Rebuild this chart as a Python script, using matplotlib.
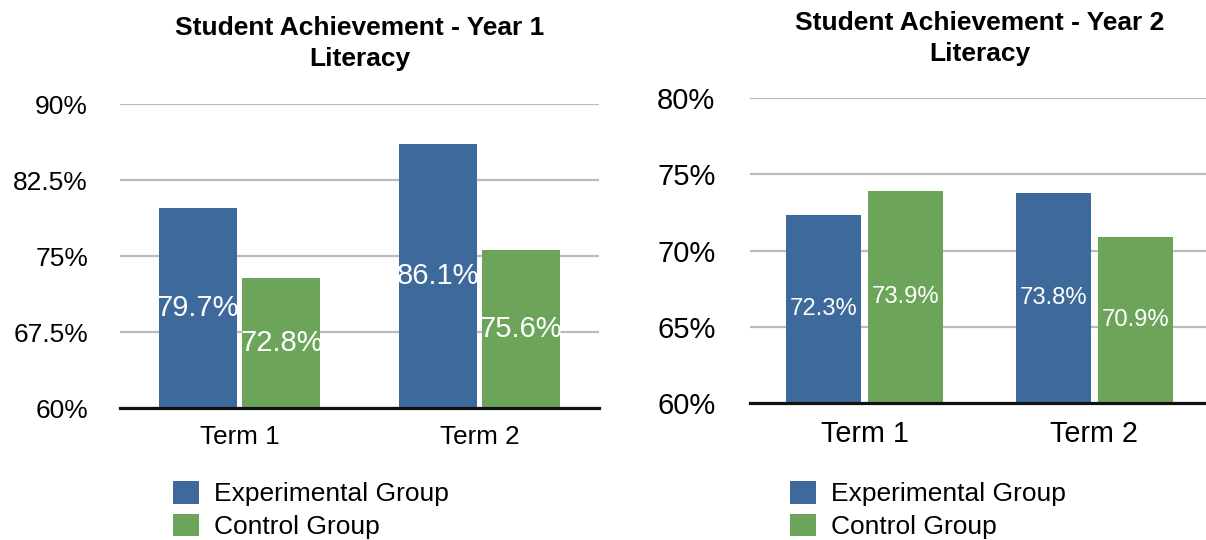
import matplotlib
matplotlib.use("Agg")
import matplotlib.pyplot as plt
import numpy as np

plt.rcParams['font.family'] = ['Liberation Sans', 'DejaVu Sans']

categories = ['Term 1', 'Term 2']
series_names = ['Experimental Group', 'Control Group']
year1_experimental = [79.7, 86.1]
year1_control = [72.8, 75.6]
year2_experimental = [72.3, 73.8]
year2_control = [73.9, 70.9]
year1_ticks = [60, 67.5, 75, 82.5, 90]
year1_ticklabels = ['60%', '67.5%', '75%', '82.5%', '90%']
year2_ticks = [60, 65, 70, 75, 80]
year2_ticklabels = ['60%', '65%', '70%', '75%', '80%']
titles = ['Student Achievement - Year 1', 'Student Achievement - Year 2']
subtitle = 'Literacy'

BLUE = '#3D6A9B'
GREEN = '#6CA559'
W, H = 1206, 540
fig = plt.figure(figsize=(W / 100, H / 100), dpi=100)


def px_axes(x0, x1, ybot, ytop):
    return fig.add_axes([x0 / W, (H - ybot) / H, (x1 - x0) / W, (ybot - ytop) / H])


def draw(ax, exp, ctrl, ticks, ticklabels, tick_fs, cat_fs, lab_fs, offset, width,
         tick_pad, cat_pad):
    x = np.arange(len(categories))
    base = ticks[0]
    b1 = ax.bar(x - offset, np.array(exp) - base, width, bottom=base, color=BLUE,
                label=series_names[0], zorder=3)
    b2 = ax.bar(x + offset, np.array(ctrl) - base, width, bottom=base, color=GREEN,
                label=series_names[1], zorder=3)
    ax.bar_label(b1, labels=[f'{v:.1f}%' for v in exp], label_type='center',
                 color='white', fontsize=lab_fs, zorder=4)
    ax.bar_label(b2, labels=[f'{v:.1f}%' for v in ctrl], label_type='center',
                 color='white', fontsize=lab_fs, zorder=4)
    ax.set_xlim(-0.5, len(categories) - 0.5)
    ax.set_ylim(ticks[0], ticks[-1])
    ax.set_yticks(ticks)
    ax.set_yticklabels(ticklabels, fontsize=tick_fs)
    ax.set_xticks(x)
    ax.set_xticklabels(categories, fontsize=cat_fs)
    ax.tick_params(axis='y', length=0, pad=tick_pad)
    ax.tick_params(axis='x', length=0, pad=cat_pad)
    for s in ['top', 'right', 'left']:
        ax.spines[s].set_visible(False)
    ax.spines['bottom'].set_linewidth(2.3)
    ax.spines['bottom'].set_color('#111111')
    ax.spines['bottom'].set_zorder(5)
    ax.yaxis.grid(True, color='#BBBBBB', linewidth=1.6, zorder=0)
    ax.set_axisbelow(True)
    return b1, b2


# Left chart
ax1 = px_axes(120, 599, 408, 104)
h1 = draw(ax1, year1_experimental, year1_control, year1_ticks, year1_ticklabels,
          19, 18.7, 21, 0.174, 0.326, 23, 12)
# Right chart
ax2 = px_axes(749.5, 1209.5, 403, 98)
h2 = draw(ax2, year2_experimental, year2_control, year2_ticks, year2_ticklabels,
          21, 20.7, 17.2, 0.178, 0.326, 24.5, 12.5)

# Titles
fig.text(359.5 / W, 1 - 35 / H, titles[0], ha='center', va='baseline', fontsize=19, fontweight='bold')
fig.text(359.5 / W, 1 - 66 / H, subtitle, ha='center', va='baseline', fontsize=19, fontweight='bold')
fig.text(980 / W, 1 - 30 / H, titles[1], ha='center', va='baseline', fontsize=19, fontweight='bold')
fig.text(980 / W, 1 - 61 / H, subtitle, ha='center', va='baseline', fontsize=19, fontweight='bold')

# Legends
for handles, lx in [(h1, 173), (h2, 790)]:
    fig.legend(handles, series_names, loc='upper left',
               bbox_to_anchor=(lx / W, 1 - 481 / H), bbox_transform=fig.transFigure,
               frameon=False, fontsize=19, borderpad=0, borderaxespad=0,
               handlelength=0.97, handleheight=0.95, handletextpad=0.6,
               labelspacing=0.27)

fig.savefig('out.png', dpi=100)
